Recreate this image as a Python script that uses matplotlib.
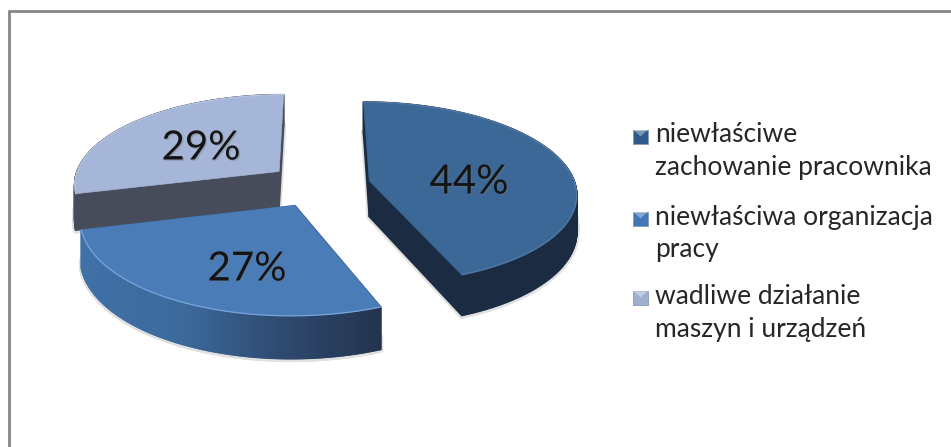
#!/usr/bin/env python3
"""Exploded 3D-style pie of accident causes, with perspective and a legend."""
import matplotlib
matplotlib.use("Agg")
import matplotlib.pyplot as plt
import matplotlib.patches as mpatches
import matplotlib.patheffects as pe
from matplotlib.collections import PolyCollection
from matplotlib.colors import LinearSegmentedColormap
import numpy as np

legend_labels = [
    "niewłaściwe\nzachowanie pracownika",
    "niewłaściwa organizacja\npracy",
    "wadliwe działanie\nmaszyn i urządzeń",
]
shares = [44, 27, 29]

top_colors = ["#3c6897", "#4a7cb8", "#a6b6d8"]
side_colors = ["#1b2c42", None, "#464c5a"]
rim_colors = ["#527aa8", "#79a4da", "#b4c3e0"]
marker_colors = ["#30588a", "#4178b5", "#9fb0cf"]
side_ramp = LinearSegmentedColormap.from_list(
    "side", ["#3f70a6", "#3c6a9c", "#2e4a70", "#24344e"]
)

# pie placement, in pixels
CX, CY = 319, 185
RX, RY = 206, 90
TILT = 0.13
EXPLODE = 0.25
DEPTH = 36

label_xy = [(469, 182), (247, 269), (201, 148)]
legend_y = [(135, 168), (217, 249), (297, 330)]
marker_y = [136.5, 218.5, 297.5]


def project(u, v):
    """Perspective map from the unit pie plane to pixels."""
    w = 1 + TILT * v
    return CX + RX * u / w, CY - RY * v / w, w


def slice_outline(start, end):
    """Top-face outline of one exploded slice: apex then arc (clockwise from 12)."""
    mid = np.radians((start + end) / 2)
    ou, ov = EXPLODE * np.sin(mid), EXPLODE * np.cos(mid)
    ang = np.radians(np.linspace(start, end, 240))
    u = np.concatenate([[ou], ou + np.sin(ang), [ou]])
    v = np.concatenate([[ov], ov + np.cos(ang), [ov]])
    return project(u, v)


def wall_quads(x, y, w, top_off=0.0, extra=0.0):
    depth = DEPTH / w
    quads = []
    for i in range(len(x) - 1):
        quads.append([
            (x[i], y[i] + top_off),
            (x[i + 1], y[i + 1] + top_off),
            (x[i + 1], y[i + 1] + depth[i + 1] + extra),
            (x[i], y[i] + depth[i] + extra),
        ])
    return quads


fig = plt.figure(figsize=(9.51, 4.47), dpi=100)
ax = fig.add_axes([0, 0, 1, 1])
ax.set_xlim(0, 951)
ax.set_ylim(447, 0)
ax.axis("off")

# chart frame
ax.plot([8.5, 8.5, 951], [447, 11, 11], color="#868686", lw=2.0, solid_joinstyle="miter")

edges = np.cumsum([0] + shares) / sum(shares) * 360
outlines = [slice_outline(edges[i], edges[i + 1]) for i in range(len(shares))]

# soft shadows go down first so no slice gets covered by them
for x, y, w in outlines:
    ax.add_collection(PolyCollection(
        wall_quads(x, y, w, top_off=30, extra=1),
        facecolors="#e0e0e0", edgecolors="#e0e0e0", linewidths=3.5, zorder=1,
    ))

for z, i in enumerate([2, 0, 1]):
    x, y, w = outlines[i]
    quads = wall_quads(x, y, w)
    if side_colors[i] is None:
        # front slice has a shaded outer wall running left to right
        mids = np.array([q[0][0] for q in quads])
        cols = side_ramp((mids - x.min()) / (x.max() - x.min()))
    else:
        cols = side_colors[i]
    ax.add_collection(PolyCollection(
        quads, facecolors=cols, edgecolors=cols, linewidths=1.2, zorder=2 + z * 3,
    ))
    ax.add_patch(mpatches.Polygon(
        np.column_stack([x, y]), closed=True, facecolor=top_colors[i],
        edgecolor=top_colors[i], lw=0.5, zorder=3 + z * 3,
    ))
    ax.plot(x[1:-1], y[1:-1], color=rim_colors[i], lw=0.9, zorder=4 + z * 3)

for value, (lx, ly) in zip(shares, label_xy):
    ax.text(
        lx, ly, f"{value}%", ha="center", va="center", fontsize=29,
        family="Lato", color="#141414", zorder=20,
        path_effects=[
            pe.withSimplePatchShadow(offset=(1, -1), shadow_rgbFace="#777777", alpha=0.35),
        ],
    )

# legend with bevelled markers
for label, (y1, y2), my, col in zip(legend_labels, legend_y, marker_y, marker_colors):
    ax.add_patch(mpatches.Rectangle((633, my - 7), 15, 14, facecolor=col, edgecolor="#8a9ab0", lw=0.6, zorder=5))
    ax.add_patch(mpatches.Polygon(
        [(633, my - 7), (648, my - 7), (640.5, my)], closed=True,
        facecolor="white", alpha=0.35, edgecolor="none", zorder=6,
    ))
    for line, ty in zip(label.split("\n"), (y1, y2)):
        ax.text(655, ty, line, ha="left", va="center", fontsize=19, family="Lato", color="#262626")

fig.savefig("out.png", dpi=100)
plt.close(fig)
